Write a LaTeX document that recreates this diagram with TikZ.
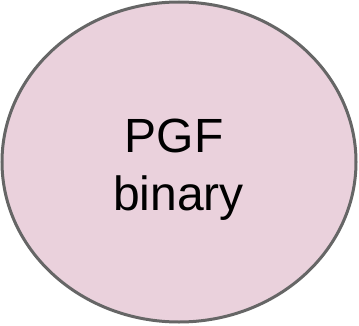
\documentclass[tikz,border=0pt]{standalone}
\usepackage{fontspec}
\setmainfont{Liberation Sans}
\definecolor{pinkfill}{HTML}{EAD1DC}
\definecolor{edgegray}{HTML}{666666}
\tikzset{blob/.style={draw=edgegray, line width=3pt, fill=pinkfill},
  lbl/.style={anchor=base, inner sep=0pt, font=\fontsize{48}{56}\selectfont}}
\begin{document}
\begin{tikzpicture}[x=1pt,y=1pt]
\useasboundingbox (0,0) rectangle (359,325);
\path[blob] (179,163) ellipse [x radius=177, y radius=160];
\node[lbl] (t1) at (174,173) {PGF};
\node[lbl] (t2) at (178.5,115) {binary};
\end{tikzpicture}
\end{document}
